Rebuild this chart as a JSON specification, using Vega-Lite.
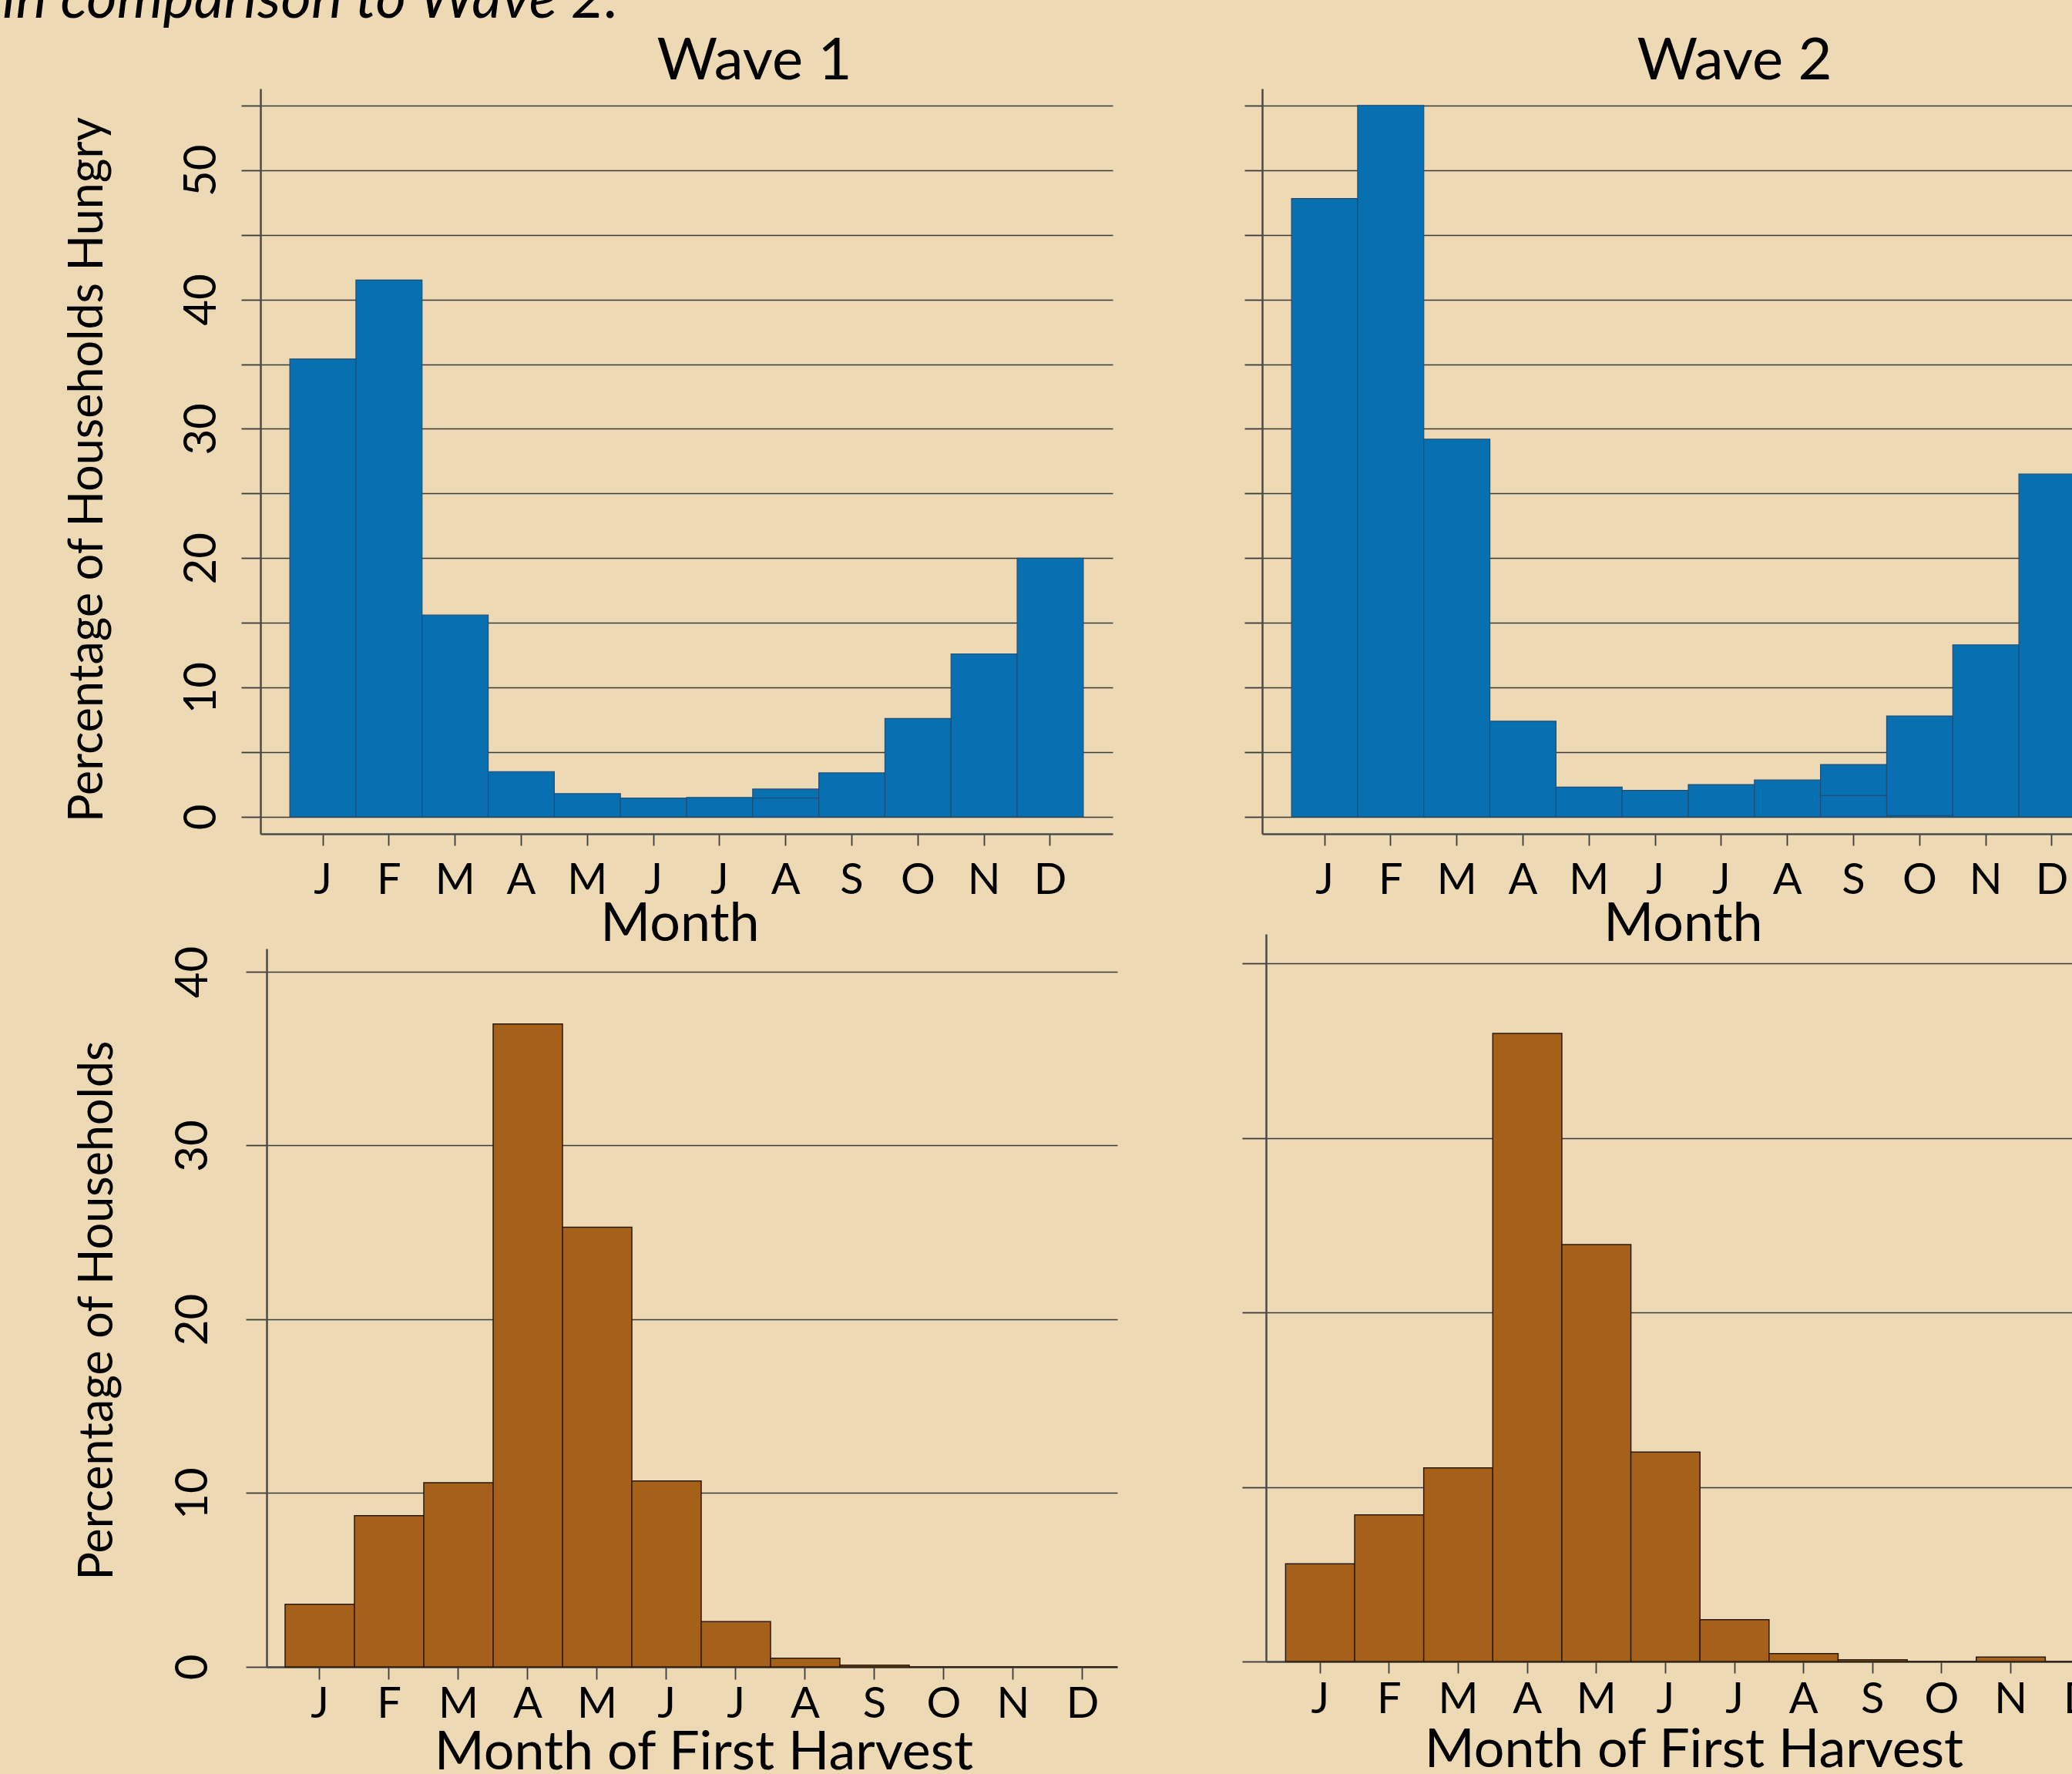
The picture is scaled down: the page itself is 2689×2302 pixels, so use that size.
{
  "$schema": "https://vega.github.io/schema/vega-lite/v6.json",
  "autosize": {"type": "none"},
  "padding": {"left": 338, "top": 115, "right": 2351, "bottom": 2187},
  "background": "#EDD9B4",
  "config": {
    "view": {"stroke": null},
    "font": "Lato",
    "axis": {"labelFont": "Lato", "titleFont": "Lato", "labelColor": "#000", "titleColor": "#000", "titleFontWeight": "normal", "gridColor": "#3a3a3a", "gridWidth": 1.6, "tickColor": "#3a3a3a", "tickWidth": 1.8, "domainColor": "#4a4a4a", "domainWidth": 2.5, "labelOverlap": false},
    "title": {"font": "Lato", "fontWeight": "normal", "color": "#000"}
  },
  "title": {"text": "in comparison to Wave 2.", "fontStyle": "italic", "fontSize": 76, "anchor": "start", "frame": "bounds", "baseline": "alphabetic", "offset": -57, "dx": -80},
  "datasets": {
    "hungry_w1": [
      {"month": "Jan", "pct": 35.4}, {"month": "Feb", "pct": 41.5}, {"month": "Mar", "pct": 15.6},
      {"month": "Apr", "pct": 3.5}, {"month": "May", "pct": 1.8}, {"month": "Jun", "pct": 1.45},
      {"month": "Jul", "pct": 1.5}, {"month": "Aug", "pct": 2.15, "inner": 1.45}, {"month": "Sep", "pct": 3.4},
      {"month": "Oct", "pct": 7.6}, {"month": "Nov", "pct": 12.6}, {"month": "Dec", "pct": 20.0}
    ],
    "hungry_w2": [
      {"month": "Jan", "pct": 47.8}, {"month": "Feb", "pct": 55.0}, {"month": "Mar", "pct": 29.2},
      {"month": "Apr", "pct": 7.4}, {"month": "May", "pct": 2.3}, {"month": "Jun", "pct": 2.05},
      {"month": "Jul", "pct": 2.5}, {"month": "Aug", "pct": 2.85}, {"month": "Sep", "pct": 4.05, "inner": 1.65},
      {"month": "Oct", "pct": 7.8, "inner": 0.1}, {"month": "Nov", "pct": 13.3}, {"month": "Dec", "pct": 26.5}
    ],
    "harvest_w1": [
      {"month": "Jan", "pct": 3.6}, {"month": "Feb", "pct": 8.7}, {"month": "Mar", "pct": 10.6},
      {"month": "Apr", "pct": 37.0}, {"month": "May", "pct": 25.3}, {"month": "Jun", "pct": 10.7},
      {"month": "Jul", "pct": 2.6}, {"month": "Aug", "pct": 0.5}, {"month": "Sep", "pct": 0.1},
      {"month": "Oct", "pct": 0}, {"month": "Nov", "pct": 0}, {"month": "Dec", "pct": 0}
    ],
    "harvest_w2": [
      {"month": "Jan", "pct": 5.6}, {"month": "Feb", "pct": 8.4}, {"month": "Mar", "pct": 11.1},
      {"month": "Apr", "pct": 36.0}, {"month": "May", "pct": 23.9}, {"month": "Jun", "pct": 12.0},
      {"month": "Jul", "pct": 2.4}, {"month": "Aug", "pct": 0.45}, {"month": "Sep", "pct": 0.1},
      {"month": "Oct", "pct": 0}, {"month": "Nov", "pct": 0.25}, {"month": "Dec", "pct": 0}
    ]
  },
  "bounds": "flush",
  "align": "each",
  "columns": 2,
  "spacing": {"row": 130, "column": 188},
  "concat": [
    {
      "width": 1106, "height": 967,
      "title": {"text": "Wave 1", "fontSize": 76, "anchor": "middle", "frame": "group", "dx": 88, "baseline": "alphabetic", "offset": -64},
      "data": {"name": "hungry_w1"},
      "encoding": {
        "x": {"field": "month", "type": "ordinal", "sort": ["Jan","Feb","Mar","Apr","May","Jun","Jul","Aug","Sep","Oct","Nov","Dec"],
          "scale": {"paddingInner": 0, "paddingOuter": 0.444},
          "axis": {"labelExpr": "substring(datum.label,0,1)", "labelAngle": 0, "labelFontSize": 56, "labelBaseline": "alphabetic", "labelPadding": 62, "tickSize": 15, "title": "Month", "titleFontSize": 70, "titleX": 544, "titleY": 138, "titleAlign": "center", "titleBaseline": "alphabetic", "grid": false}},
        "y": {"field": "pct", "type": "quantitative", "stack": null, "scale": {"domain": [-1.31, 56.3], "nice": false},
          "axis": {"values": [0,5,10,15,20,25,30,35,40,45,50,55], "labelExpr": "datum.value % 10 === 0 ? datum.label : ''", "grid": true, "tickSize": 25, "labelAngle": -90, "labelAlign": "center", "labelBaseline": "alphabetic", "labelPadding": 34, "labelFontSize": 58, "title": "Percentage of Households Hungry", "titleFontSize": 61, "titleX": -206, "titleY": 494, "titleAlign": "center", "titleBaseline": "alphabetic", "titleAngle": -90}}
      },
      "layer": [
        {"mark": {"type": "bar", "fill": "#0870B0", "stroke": "#1E4E78", "strokeWidth": 1.2}},
        {"transform": [{"filter": "datum.inner != null"}], "mark": {"type": "bar", "fill": "#0870B0", "stroke": "#1E4E78", "strokeWidth": 1.2},
         "encoding": {"y": {"field": "inner", "type": "quantitative", "stack": null}}}
      ]
    },
    {
      "width": 1106, "height": 967,
      "title": {"text": "Wave 2", "fontSize": 76, "anchor": "middle", "frame": "group", "dx": 60, "baseline": "alphabetic", "offset": -64},
      "data": {"name": "hungry_w2"},
      "encoding": {
        "x": {"field": "month", "type": "ordinal", "sort": ["Jan","Feb","Mar","Apr","May","Jun","Jul","Aug","Sep","Oct","Nov","Dec"],
          "scale": {"paddingInner": 0, "paddingOuter": 0.444},
          "axis": {"labelExpr": "substring(datum.label,0,1)", "labelAngle": 0, "labelFontSize": 56, "labelBaseline": "alphabetic", "labelPadding": 62, "tickSize": 15, "title": "Month", "titleFontSize": 70, "titleX": 546, "titleY": 138, "titleAlign": "center", "titleBaseline": "alphabetic", "grid": false}},
        "y": {"field": "pct", "type": "quantitative", "stack": null, "scale": {"domain": [-1.31, 56.3], "nice": false},
          "axis": {"values": [0,5,10,15,20,25,30,35,40,45,50,55], "labels": false, "grid": true, "tickSize": 23, "title": null}}
      },
      "layer": [
        {"mark": {"type": "bar", "fill": "#0870B0", "stroke": "#1E4E78", "strokeWidth": 1.2}},
        {"transform": [{"filter": "datum.inner != null"}], "mark": {"type": "bar", "fill": "#0870B0", "stroke": "#1E4E78", "strokeWidth": 1.2},
         "encoding": {"y": {"field": "inner", "type": "quantitative", "stack": null}}}
      ]
    },
    {
      "width": 1112, "height": 951,
      "data": {"name": "harvest_w1"},
      "encoding": {
        "x": {"field": "month", "type": "ordinal", "sort": ["Jan","Feb","Mar","Apr","May","Jun","Jul","Aug","Sep","Oct","Nov","Dec"],
          "scale": {"paddingInner": 0, "paddingOuter": 0.1333, "align": 1, "range": [8, 1112]},
          "axis": {"labelExpr": "substring(datum.label,0,1)", "labelAngle": 0, "labelFontSize": 56, "labelBaseline": "alphabetic", "labelPadding": 49, "tickSize": 16, "title": "Month of First Harvest", "titleFontSize": 70, "titleX": 575, "titleY": 132, "titleAlign": "center", "titleBaseline": "alphabetic", "grid": false}},
        "y": {"field": "pct", "type": "quantitative", "stack": null, "scale": {"domain": [0, 41.33], "nice": false, "range": [951, 19]},
          "axis": {"values": [0,10,20,30,40], "offset": -8, "grid": true, "tickSize": 27, "labelAngle": -90, "labelAlign": "center", "labelBaseline": "alphabetic", "labelPadding": 51, "labelFontSize": 58, "title": "Percentage of Households", "titleFontSize": 61, "titleX": -201, "titleY": 488, "titleAlign": "center", "titleBaseline": "alphabetic", "titleAngle": -90}}
      },
      "mark": {"type": "bar", "fill": "#A5601A", "stroke": "#2A1A08", "strokeWidth": 1.5}
    },
    {
      "width": 1106, "height": 944,
      "data": {"name": "harvest_w2"},
      "encoding": {
        "x": {"field": "month", "type": "ordinal", "sort": ["Jan","Feb","Mar","Apr","May","Jun","Jul","Aug","Sep","Oct","Nov","Dec"],
          "scale": {"paddingInner": 0, "paddingOuter": 0.1417, "align": 1, "range": [5, 1106]},
          "axis": {"labelExpr": "substring(datum.label,0,1)", "labelAngle": 0, "labelFontSize": 56, "labelBaseline": "alphabetic", "labelPadding": 51, "tickSize": 15, "title": "Month of First Harvest", "titleFontSize": 70, "titleX": 560, "titleY": 136, "titleAlign": "center", "titleBaseline": "alphabetic", "grid": false}},
        "y": {"field": "pct", "type": "quantitative", "stack": null, "scale": {"domain": [0, 41.7], "nice": false},
          "axis": {"values": [0,10,20,30,40], "offset": -5, "labels": false, "grid": true, "tickSize": 31, "title": null}}
      },
      "mark": {"type": "bar", "fill": "#A5601A", "stroke": "#2A1A08", "strokeWidth": 1.5}
    }
  ]
}
